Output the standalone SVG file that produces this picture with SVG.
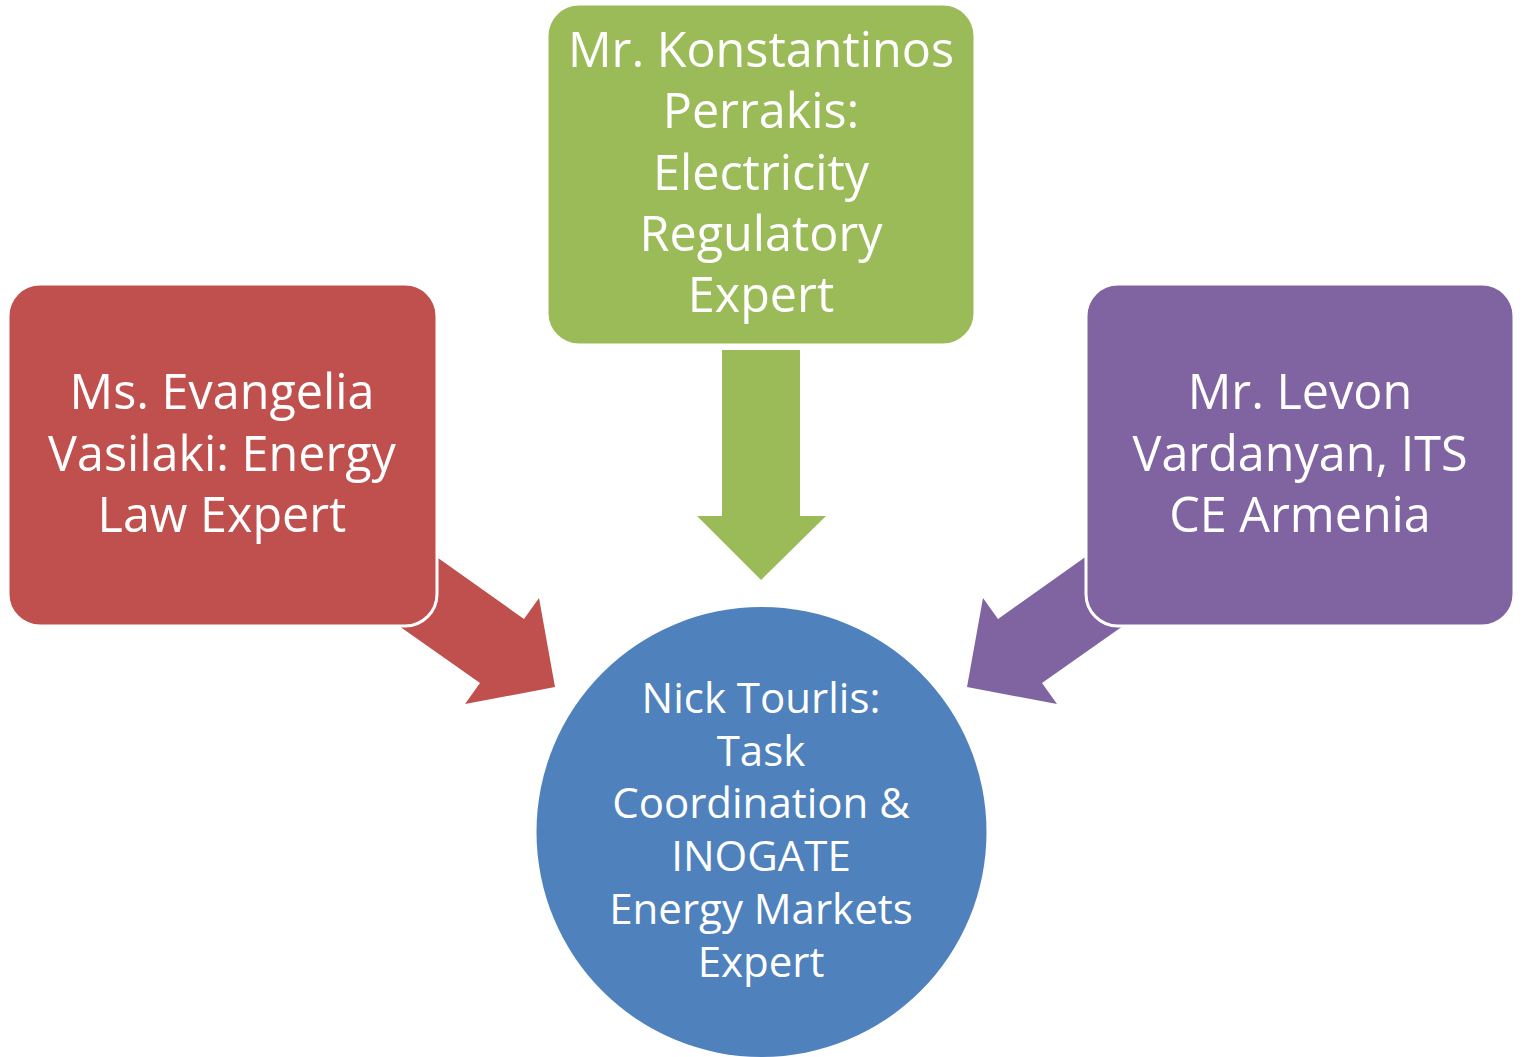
<svg xmlns="http://www.w3.org/2000/svg" width="1522" height="1057" viewBox="0 0 1522 1057">
<style>
.box{stroke:#FFFFFF;stroke-width:3}
.t{font-family:"Open Sans","Noto Sans","Liberation Sans",sans-serif;fill:#FFFFFF;text-anchor:middle}
.big{font-size:48.5px}
.small{font-size:42px}
</style>
<rect width="1522" height="1057" fill="#FFFFFF"/>
<g id="connectors">
<polygon id="arrow-green" points="722,350 800,350 800,516 826,516 761,580 697,516 722,516" fill="#9BBB59"/>
<polygon id="arrow-red" points="400,531 524,619 539,598 555,687 465,704 480,683 372,607" fill="#C0504D"/>
<polygon id="arrow-purple" points="1122,531 998,619 983,598 967,687 1057,704 1042,683 1150,607" fill="#8064A2"/>
</g>
<g id="node-evangelia">
<rect class="box" x="8" y="284" width="429" height="342" rx="32" fill="#C0504D"/>
<text class="t big" x="222" y="409">Ms. Evangelia</text>
<text class="t big" x="222" y="471">Vasilaki: Energy</text>
<text class="t big" x="222" y="532">Law Expert</text>
</g>
<g id="node-konstantinos">
<rect class="box" x="547" y="4" width="428" height="341" rx="32" fill="#9BBB59"/>
<text class="t big" x="761" y="67">Mr. Konstantinos</text>
<text class="t big" x="761" y="128">Perrakis:</text>
<text class="t big" x="761" y="190">Electricity</text>
<text class="t big" x="761" y="251">Regulatory</text>
<text class="t big" x="761" y="312">Expert</text>
</g>
<g id="node-levon">
<rect class="box" x="1086" y="284" width="428" height="342" rx="32" fill="#8064A2"/>
<text class="t big" x="1300" y="409">Mr. Levon</text>
<text class="t big" x="1300" y="471">Vardanyan, ITS</text>
<text class="t big" x="1300" y="532">CE Armenia</text>
</g>
<g id="node-nick">
<circle cx="761.5" cy="832" r="225" fill="#4F81BD"/>
<text class="t small" x="761" y="713">Nick Tourlis:</text>
<text class="t small" x="761" y="766">Task</text>
<text class="t small" x="761" y="818">Coordination &amp;</text>
<text class="t small" x="761" y="871">INOGATE</text>
<text class="t small" x="761" y="924">Energy Markets</text>
<text class="t small" x="761" y="977">Expert</text>
</g>
</svg>
